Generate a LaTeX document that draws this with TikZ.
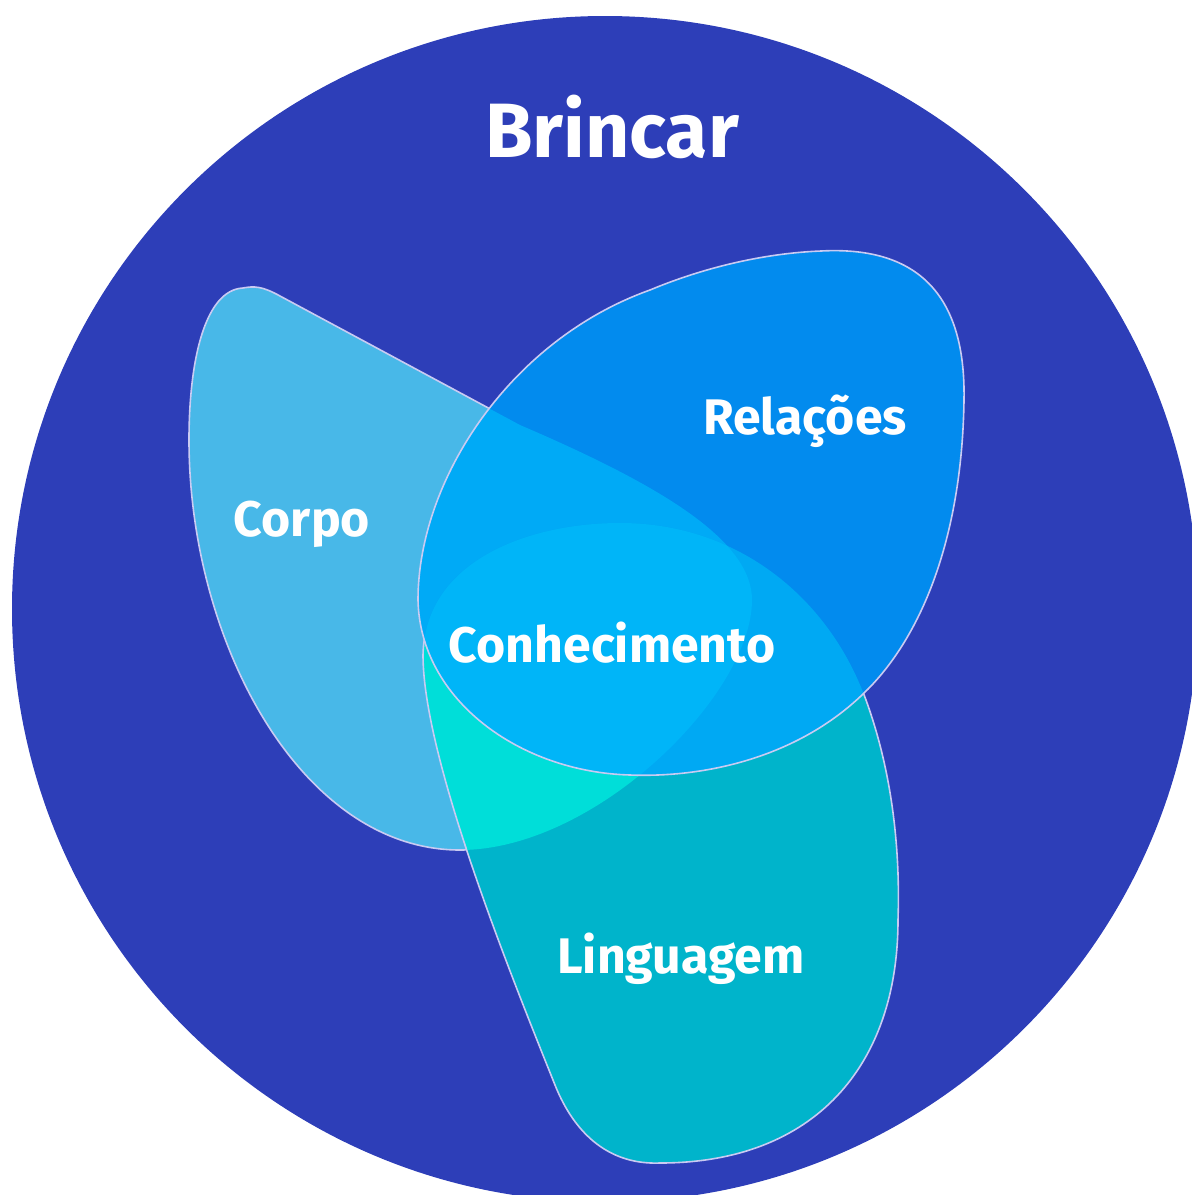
\documentclass[tikz,border=0pt]{standalone}
\usepackage{fontspec}
\setmainfont{Fira Sans}

\definecolor{brincarblue}{HTML}{2D3EB8}
\definecolor{corpoblue}{HTML}{48B8E8}
\definecolor{relblue}{HTML}{028BEE}
\definecolor{lingteal}{HTML}{00B4CB}
\definecolor{corpoling}{HTML}{00DED9}
\definecolor{corporel}{HTML}{00AAF6}
\definecolor{relling}{HTML}{00A9F3}
\definecolor{allthree}{HTML}{00B5F8}
\definecolor{edgecol}{HTML}{C9CBF2}

% outlines of the three areas (pixel units)
\newcommand{\corpoP}{(243,288) .. controls (205,290) and (189,360) .. (189,440)
  .. controls (189,640) and (300,850) .. (460,850)
  .. controls (595,850) and (752,695) .. (752,600) .. controls (752,540) and (660,485) .. (520,425)
  -- (280,296) .. controls (262,286) and (254,286) .. (243,288) -- cycle}
\newcommand{\relP}{(821,251) .. controls (915,246) and (966,292) .. (964,400)
  .. controls (962,540) and (920,640) .. (863,694) .. controls (800,755) and (710,778) .. (630,775)
  .. controls (520,772) and (420,700) .. (418,600) .. controls (418,480) and (510,340) .. (650,290)
  .. controls (710,265) and (770,253) .. (821,251) -- cycle}
\newcommand{\lingP}{(423,655) .. controls (425,560) and (530,523) .. (620,523)
  .. controls (740,523) and (830,600) .. (866,700) .. controls (895,780) and (900,860) .. (898,920)
  .. controls (898,1065) and (815,1163) .. (660,1163) .. controls (610,1165) and (575,1135) .. (555,1085)
  .. controls (515,985) and (423,760) .. (423,655) -- cycle}

\tikzset{%
  % Specifications for style of areas and texts:
         edge/.style = {draw=edgecol, line width=0.8pt},
         word/.style = {text=white, font=\bfseries\fontsize{25}{29}\selectfont, anchor=base, inner sep=0pt},
}

\begin{document}
\begin{tikzpicture}[x=0.5pt, y=-0.5pt]
    \useasboundingbox (0,0) rectangle (1192,1195);
    \clip (0,0) rectangle (1192,1195);

    % Draw big circle
    \fill[brincarblue] (605,609) circle (296.5pt);

    % Draw areas
    \fill[corpoblue] \corpoP;
    \path[edge] \corpoP;
    \fill[lingteal] \lingP;
    \begin{scope}
        \clip \corpoP;
        \fill[corpoling] \lingP;
    \end{scope}
    \path[edge] \lingP;
    \fill[relblue] \relP;
    \begin{scope}
        \clip \relP;
        \fill[corporel] \corpoP;
        \fill[relling] \lingP;
        \clip \corpoP;
        \fill[allthree] \lingP;
    \end{scope}
    \path[edge] \relP;

    % Draw texts
    \node (brincar)      [word, font=\bfseries\fontsize{38.5}{42}\selectfont] at (612,157) {Brincar};
    \node (relacoes)     [word] at (805,434) {Relações};
    \node (corpo)        [word] at (302,536) {Corpo};
    \node (conhecimento) [word] at (612,662) {Conhecimento};
    \node (linguagem)    [word] at (681,973) {Linguagem};
\end{tikzpicture}
\end{document}
